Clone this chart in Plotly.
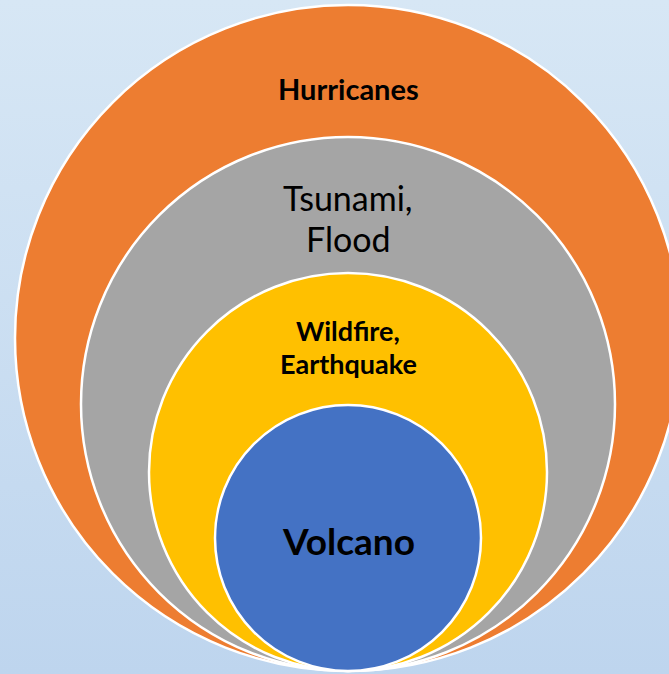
import plotly.graph_objects as go

# Nested hazard rings, all tangent at the bottom (radius in pixels)
labels = ["Hurricanes", "Tsunami,<br>Flood", "Wildfire,<br>Earthquake", "Volcano"]
radii = [333, 267, 199, 133]
fills = ["#ED7D31", "#A5A5A5", "#FFC000", "#4472C4"]

# per-line vertical positions of each label, and its font
label_line_y = [[583], [474, 433], [341, 308], [131]]
label_size = [29, 34, 27, 37]
label_bold = [True, False, True, True]

W, H = 669, 674
x_range = [-348, W - 348]
y_range = [-3, H - 3]

fig = go.Figure()

# soft vertical gradient backdrop
fig.add_trace(go.Scatter(
    x=[x_range[0], x_range[1], x_range[1], x_range[0], x_range[0]],
    y=[y_range[0], y_range[0], y_range[1], y_range[1], y_range[0]],
    mode="lines", fill="toself", line=dict(width=0),
    fillgradient=dict(type="vertical",
                      colorscale=[[0, "#BED5EE"], [1, "#D7E7F5"]]),
    hoverinfo="skip", showlegend=False,
))

for r, c in zip(radii, fills):
    fig.add_shape(type="circle", xref="x", yref="y",
                  x0=-r, x1=r, y0=0, y1=2 * r,
                  fillcolor=c, line=dict(color="white", width=2.5),
                  layer="above")

for text, ys, size, bold in zip(labels, label_line_y, label_size, label_bold):
    for line, y in zip(text.split("<br>"), ys):
        fig.add_annotation(x=0, y=y, xref="x", yref="y", showarrow=False,
                           text=f"<b>{line}</b>" if bold else line,
                           font=dict(family="Lato", size=size, color="black"))

fig.update_xaxes(range=x_range, visible=False, fixedrange=True)
fig.update_yaxes(range=y_range, visible=False, fixedrange=True)
fig.update_layout(width=W, height=H, margin=dict(l=0, r=0, t=0, b=0),
                  paper_bgcolor="#D7E7F5", plot_bgcolor="#D7E7F5",
                  showlegend=False)

fig.write_html("out.html")
